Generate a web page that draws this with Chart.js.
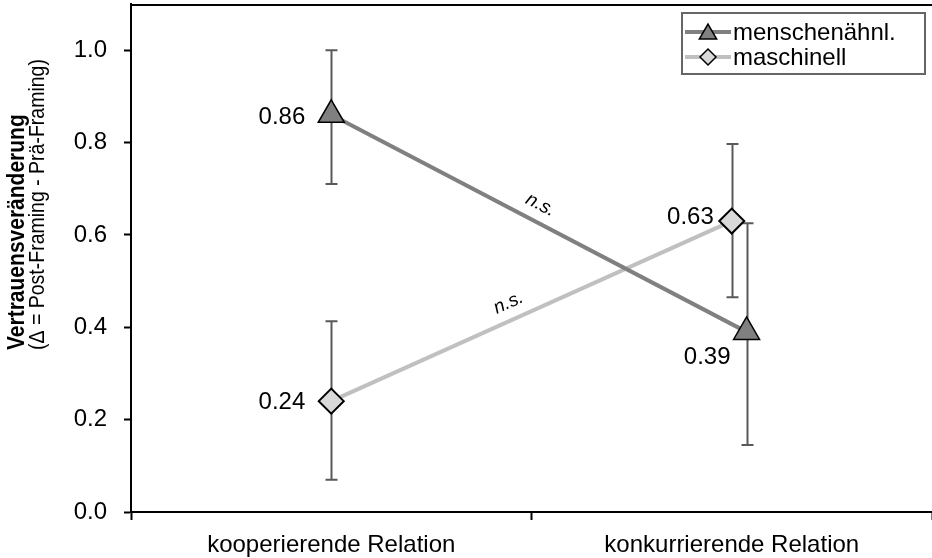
<!DOCTYPE html>
<html>
<head>
<meta charset="utf-8">
<script src="https://cdn.jsdelivr.net/npm/chart.js@4"></script>
<style>
  html, body { margin: 0; padding: 0; background: #fff; overflow: hidden; }
  #wrap { width: 932px; height: 558px; position: relative; }
  canvas { display: block; }
</style>
</head>
<body>
<div id="wrap"><canvas id="chart"></canvas></div>
<script>
// data
const categories = ['kooperierende Relation', 'konkurrierende Relation']
const seriesNames = ['menschenähnl.', 'maschinell']
const human = [0.86, 0.39]
const humanLow = [0.71, 0.145]
const humanHigh = [1.0, 0.625]
const machine = [0.24, 0.63]
const machineLow = [0.07, 0.465]
const machineHigh = [0.413, 0.797]
const yTicks = [0, 0.2, 0.4, 0.6, 0.8, 1.0]
const sigLabels = ['n.s.', 'n.s.']

// category centres on a 0..2 linear axis, right human point nudged a bit
const catX = [0.5, 1.5]
const humanShift = [0, 0.037]

const FONT = "'Liberation Sans', Arial, sans-serif"
Chart.defaults.font.family = FONT
Chart.defaults.color = '#000'

const humanColor = '#808080'
const machineColor = '#c0c0c0'

// no extra padding around the axes, the plot fills the canvas
const noPad = s => {
  s.paddingTop = 0
  s.paddingBottom = 0
  s.paddingLeft = 0
  s.paddingRight = 0
}

// Error bars drawn under the markers
const errorBars = {
  id: 'errorBars',
  beforeDatasetsDraw(chart) {
    const { ctx, scales: { x, y } } = chart
    const groups = [
      { xs: catX.map((c, i) => c + humanShift[i]), lo: humanLow, hi: humanHigh },
      { xs: catX, lo: machineLow, hi: machineHigh }
    ]
    ctx.save()
    ctx.strokeStyle = '#5a5a5a'
    ctx.lineWidth = 2
    groups.forEach(g => {
      g.xs.forEach((xv, i) => {
        const px = Math.round(x.getPixelForValue(xv)) + 0.5
        const y1 = y.getPixelForValue(g.lo[i])
        const y2 = y.getPixelForValue(g.hi[i])
        ctx.beginPath()
        ctx.moveTo(px, y1); ctx.lineTo(px, y2)
        ctx.moveTo(px - 6, y1); ctx.lineTo(px + 6, y1)
        ctx.moveTo(px - 6, y2); ctx.lineTo(px + 6, y2)
        ctx.stroke()
      })
    })
    ctx.restore()
  }
}

// value labels, n.s. labels, top frame line, legend, y title
const extras = {
  id: 'extras',
  afterDraw(chart) {
    const { ctx, chartArea } = chart
    ctx.save()

    // top frame line
    ctx.strokeStyle = '#000'
    ctx.lineWidth = 2
    ctx.beginPath()
    ctx.moveTo(chartArea.left, chartArea.top + 1)
    ctx.lineTo(chartArea.right, chartArea.top + 1)
    ctx.stroke()

    // value labels
    ctx.font = '24px ' + FONT
    ctx.fillStyle = '#000'
    ctx.textAlign = 'right'
    ctx.textBaseline = 'middle'
    const hMeta = chart.getDatasetMeta(0).data
    const mMeta = chart.getDatasetMeta(1).data
    ctx.fillText(human[0].toFixed(2), hMeta[0].x - 26, hMeta[0].y + 3)
    ctx.fillText(human[1].toFixed(2), hMeta[1].x - 16, hMeta[1].y + 25)
    ctx.fillText(machine[0].toFixed(2), mMeta[0].x - 26, mMeta[0].y + 1)
    ctx.fillText(machine[1].toFixed(2), mMeta[1].x - 18, mMeta[1].y - 4)

    // n.s. along the lines
    ctx.font = 'italic 19px ' + FONT
    ctx.textAlign = 'center'
    const along = [[hMeta, 0.485], [mMeta, 0.46]]
    along.forEach(([pts, t], i) => {
      const a = pts[0], b = pts[1]
      const ang = Math.atan2(b.y - a.y, b.x - a.x)
      const px = a.x + (b.x - a.x) * t
      const py = a.y + (b.y - a.y) * t
      ctx.save()
      ctx.translate(px, py)
      ctx.rotate(ang)
      ctx.fillText(sigLabels[i], 0, -17)
      ctx.restore()
    })

    // legend
    const lx = 682, ly = 13, lw = 243, lh = 61
    ctx.fillStyle = '#fff'
    ctx.fillRect(lx, ly, lw, lh)
    ctx.strokeStyle = '#666'
    ctx.lineWidth = 2
    ctx.strokeRect(lx, ly, lw, lh)
    const rows = [
      { name: seriesNames[0], color: humanColor, style: 'triangle', r: 10, fill: humanColor, cy: 32 },
      { name: seriesNames[1], color: machineColor, style: 'rectRot', r: 8, fill: '#d9d9d9', cy: 57 }
    ]
    rows.forEach(r => {
      ctx.strokeStyle = r.color
      ctx.lineWidth = 4
      ctx.beginPath()
      ctx.moveTo(lx + 3, r.cy); ctx.lineTo(lx + 49, r.cy)
      ctx.stroke()
      ctx.fillStyle = r.fill
      ctx.strokeStyle = '#000'
      ctx.lineWidth = 1.5
      Chart.helpers.drawPoint(ctx, { pointStyle: r.style, radius: r.r, borderWidth: 1.5, rotation: 0 }, lx + 26, r.style === 'triangle' ? r.cy + 2 : r.cy)
      ctx.fillStyle = '#000'
      ctx.font = '24px ' + FONT
      ctx.textAlign = 'left'
      ctx.textBaseline = 'middle'
      ctx.fillText(r.name, lx + 51, r.cy + 1)
    })

    // y axis title (two lines, rotated, a little wider like the original)
    ctx.save()
    ctx.translate(0, 350)
    ctx.rotate(-Math.PI / 2)
    ctx.scale(1, 1.15)
    ctx.textAlign = 'left'
    ctx.textBaseline = 'middle'
    ctx.font = 'bold 21px ' + FONT
    ctx.fillText('Vertrauensveränderung', 0, 15)
    ctx.font = '19.5px ' + FONT
    ctx.fillText('(Δ = Post-Framing - Prä-Framing)', 0, 33)
    ctx.restore()

    ctx.restore()
  }
}

new Chart(document.getElementById('chart'), {
  type: 'scatter',
  data: {
    datasets: [
      {
        label: seriesNames[0],
        data: human.map((v, i) => ({ x: catX[i] + humanShift[i], y: v })),
        showLine: true,
        borderColor: humanColor,
        borderWidth: 4,
        pointStyle: 'triangle',
        pointRadius: 15,
        pointBackgroundColor: humanColor,
        pointBorderColor: '#000',
        pointBorderWidth: 1.5,
        clip: false
      },
      {
        label: seriesNames[1],
        data: machine.map((v, i) => ({ x: catX[i], y: v })),
        showLine: true,
        borderColor: machineColor,
        borderWidth: 4,
        pointStyle: 'rectRot',
        pointRadius: 12.5,
        pointBackgroundColor: '#d9d9d9',
        pointBorderColor: '#000',
        pointBorderWidth: 2,
        clip: false
      }
    ]
  },
  options: {
    responsive: true,
    maintainAspectRatio: false,
    animation: false,
    layout: { autoPadding: false, padding: { top: 4, right: 0, left: 0, bottom: 0 } },
    plugins: {
      legend: { display: false },
      tooltip: { enabled: false }
    },
    scales: {
      x: {
        type: 'linear',
        min: 0,
        max: 2,
        afterBuildTicks: s => { s.ticks = [0, 0.5, 1, 1.5, 2].map(v => ({ value: v })) },
        afterFit: s => { s.height = 46; noPad(s) },
        border: { color: '#000', width: 2 },
        grid: {
          drawOnChartArea: false,
          tickLength: 8,
          tickWidth: 2,
          tickColor: c => (c.tick && c.tick.value % 1 === 0 ? '#000' : 'rgba(0,0,0,0)')
        },
        ticks: {
          autoSkip: false,
          maxRotation: 0,
          padding: 11,
          font: { size: 24 },
          callback: v => (v === 0.5 ? categories[0] : v === 1.5 ? categories[1] : '')
        }
      },
      y: {
        min: 0,
        max: 1.1,
        afterBuildTicks: s => { s.ticks = yTicks.map(v => ({ value: v })) },
        afterFit: s => { s.width = 131; noPad(s) },
        border: { color: '#000', width: 2 },
        grid: { drawOnChartArea: false, tickLength: 7, tickWidth: 2, tickColor: '#000' },
        ticks: {
          padding: 17,
          font: { size: 24 },
          callback: v => v.toFixed(1)
        }
      }
    }
  },
  plugins: [errorBars, extras]
})
</script>
</body>
</html>
